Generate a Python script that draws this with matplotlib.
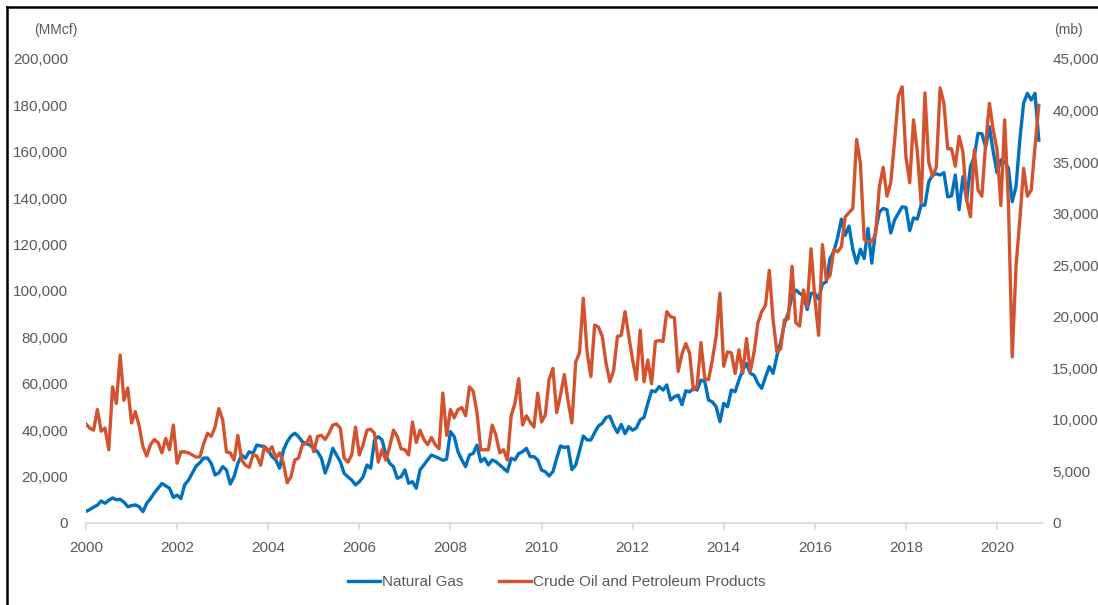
import numpy as np
import matplotlib
matplotlib.use("Agg")
import matplotlib.pyplot as plt
from matplotlib.lines import Line2D
from matplotlib.ticker import FuncFormatter

plt.rcParams['font.family'] = ['Liberation Sans', 'DejaVu Sans']

# monthly values, Jan 2000 - Dec 2020
natural_gas = [  # MMcf
    5000, 5800, 6800, 7700, 9500, 8500, 9800, 10800, 10000, 10200, 9000, 7000,
    7500, 7800, 7000, 4900, 8500, 10500, 13000, 15000, 17000, 16000, 15000, 11000,
    12000, 10500, 16500, 18500, 21500, 24500, 26000, 28000, 28000, 25700, 20700, 21600,
    24300, 22900, 16800, 20000, 25700, 29300, 27900, 30700, 30000, 33600, 33200, 33000,
    31400, 28600, 27200, 23600, 31400, 35000, 37500, 38700, 37200, 35000, 34200, 33600,
    32100, 30700, 28000, 21500, 26000, 32200, 29300, 26400, 21400, 19900, 18500, 16400,
    17800, 19900, 25000, 23600, 35800, 37200, 35800, 29300, 25700, 24300, 19300, 19900,
    22900, 17100, 17800, 15000, 22900, 25000, 27200, 29300, 28600, 27900, 27000, 27500,
    39400, 37200, 30700, 27200, 24300, 29300, 30000, 33600, 26400, 27900, 25000, 27200,
    26400, 25000, 23600, 22100, 27900, 27200, 30000, 30700, 32200, 28600, 28600, 27200,
    22800, 22100, 20300, 22100, 27900, 33200, 32500, 32900, 23000, 25000, 31000, 37500,
    35800, 35800, 39000, 41800, 43000, 45500, 46000, 42000, 39000, 42500, 38500, 41500,
    40000, 41000, 44500, 45500, 51600, 57000, 56600, 58800, 57300, 59500, 53000, 54400,
    55100, 51000, 57000, 56500, 58000, 57300, 61600, 61000, 53000, 52200, 50100, 43700,
    51600, 50100, 57300, 56600, 61600, 65900, 68800, 64500, 63700, 60200, 58000, 63000,
    67400, 64500, 72000, 78000, 86000, 90500, 98000, 100400, 99000, 98000, 92000, 99000,
    99000, 96500, 103000, 104000, 114000, 117000, 123000, 131000, 124000, 128000, 118000, 112000,
    118000, 114000, 127000, 112000, 126000, 134000, 135600, 135000, 125000, 130600, 133500, 136300,
    136000, 126000, 131500, 131000, 137000, 137000, 147000, 150000, 150500, 150000, 151000, 140600,
    141000, 150000, 135000, 149300, 139200, 153600, 158000, 168000, 167800, 162000, 170800, 160000,
    151000, 156500, 155700, 153000, 138500, 145000, 165100, 181000, 185200, 182300, 185200, 165000,
]

crude_oil = [  # mb
    9600, 9200, 9000, 11000, 8900, 9200, 7100, 13200, 11600, 16300, 11900, 13100,
    9700, 10800, 9400, 7400, 6500, 7600, 8100, 7800, 6800, 8200, 7100, 9500,
    5800, 6900, 6900, 6800, 6600, 6400, 6400, 7700, 8700, 8400, 9300, 11100,
    10000, 6900, 6800, 6100, 8500, 6100, 5600, 5400, 6600, 6500, 5600, 7400,
    6900, 7400, 6300, 6800, 5800, 3900, 4500, 6100, 6300, 7600, 7700, 8400,
    6900, 8400, 8500, 8100, 8700, 9500, 9600, 9200, 6300, 5900, 6600, 9300,
    6600, 7600, 9000, 9100, 8700, 5900, 7100, 6100, 7400, 9000, 8400, 7200,
    7100, 6600, 9800, 7800, 9000, 8100, 7600, 8300, 7600, 7200, 12600, 8500,
    11000, 10200, 11000, 11200, 10400, 13200, 12800, 10700, 7100, 7100, 7100, 9500,
    8500, 6800, 7100, 6100, 10400, 11600, 14000, 9500, 10400, 9800, 9300, 12600,
    9800, 10500, 13900, 15000, 10700, 12400, 14400, 11800, 9700, 15600, 16500, 21800,
    16600, 14200, 19200, 19000, 18100, 15500, 13700, 14800, 18100, 18200, 20500, 18100,
    15800, 13900, 18700, 13700, 15800, 13500, 17600, 17700, 17600, 20500, 20000, 19900,
    14700, 16400, 17400, 16500, 12900, 13300, 17500, 14000, 13900, 15800, 18100, 22300,
    15200, 16600, 16500, 14500, 16800, 14500, 17900, 14700, 16600, 19400, 20500, 21100,
    24500, 19700, 16600, 16900, 19700, 19800, 24900, 19400, 19100, 22600, 21000, 26600,
    21800, 18200, 27000, 23600, 24000, 26500, 26300, 26800, 29700, 30100, 30500, 37200,
    34900, 27500, 27300, 27300, 28000, 32600, 34500, 31700, 33000, 37000, 41400, 42300,
    35500, 33000, 39100, 36000, 31000, 41700, 35000, 33600, 34500, 42200, 40700, 36300,
    36300, 34600, 37500, 36000, 31300, 29700, 36200, 32300, 31700, 36800, 40700, 38100,
    36200, 30800, 39100, 31000, 16100, 24900, 29400, 34400, 31700, 32300, 36500, 40500,
]

year_ticks = [2000, 2002, 2004, 2006, 2008, 2010, 2012, 2014, 2016, 2018, 2020]

months = 2000 + np.arange(len(natural_gas)) / 12.0

BLUE = '#0070C0'
ORANGE = '#D4532F'
GREY_TXT = '#595959'

fig = plt.figure(figsize=(10.98, 6.05), dpi=100)
W, H = 1098, 605
ax = fig.add_axes([86 / W, 1 - 523 / H, (1042.6 - 86) / W, (523 - 59) / H])
ax2 = ax.twinx()

l1, = ax.plot(months, natural_gas, color=BLUE, lw=2.4, solid_joinstyle='round')
l2, = ax2.plot(months, crude_oil, color=ORANGE, lw=2.4, solid_joinstyle='round')

ax.set_xlim(2000, 2021)
ax.set_ylim(0, 200000)
ax2.set_ylim(0, 45000)
ax.set_yticks(np.arange(0, 200001, 20000))
ax2.set_yticks(np.arange(0, 45001, 5000))
ax.set_xticks(year_ticks)

fmt = FuncFormatter(lambda v, p: f'{int(v):,}')
ax.yaxis.set_major_formatter(fmt)
ax2.yaxis.set_major_formatter(fmt)

for a in (ax, ax2):
    for s in a.spines.values():
        s.set_visible(False)
ax.spines['bottom'].set_visible(True)
ax.spines['bottom'].set_color('#d9d9d9')
ax.spines['bottom'].set_linewidth(1.2)

ax.tick_params(axis='x', colors='#d9d9d9', labelcolor=GREY_TXT, labelsize=11,
               length=5, width=1.2, pad=8)
ax.tick_params(axis='y', length=0, labelcolor=GREY_TXT, labelsize=11, pad=13)
ax2.tick_params(axis='y', length=0, labelcolor=GREY_TXT, labelsize=11, pad=7)

fig.text(56 / W, 1 - 30 / H, '(MMcf)', ha='center', va='center', fontsize=10, color=GREY_TXT)
fig.text(1068 / W, 1 - 30 / H, '(mb)', ha='center', va='center', fontsize=10, color=GREY_TXT)

fig.legend([l1, l2], ['Natural Gas', 'Crude Oil and Petroleum Products'],
           loc='center', bbox_to_anchor=(557 / W, 1 - 582 / H), ncol=2, frameon=False,
           fontsize=11, labelcolor=GREY_TXT, handlelength=2.1, handletextpad=0.15,
           columnspacing=2.3)

# black frame (left and top edges visible in the crop)
fig.add_artist(Line2D([7 / W, 7 / W], [0, 1 - 7 / H], color='black', lw=1.8))
fig.add_artist(Line2D([7 / W, 1], [1 - 7 / H, 1 - 7 / H], color='black', lw=1.8))

fig.savefig('out.png', dpi=100)
